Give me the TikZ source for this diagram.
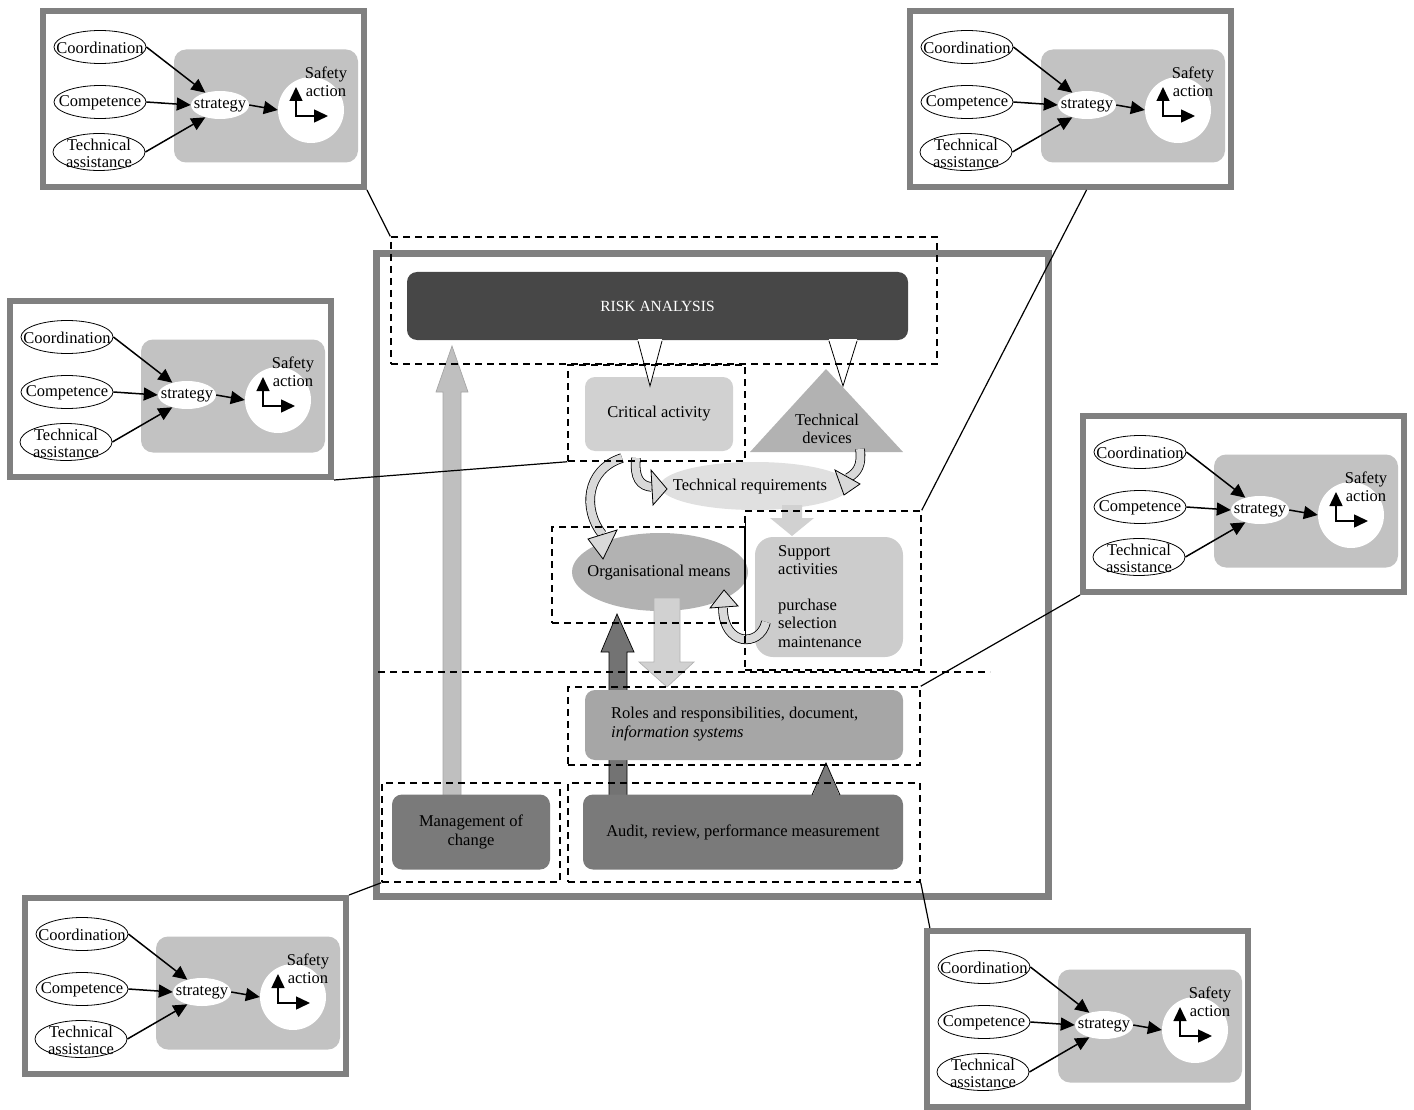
\documentclass[tikz,border=0pt]{standalone}
\usepackage{fontspec}
\setmainfont{Liberation Serif}
\usetikzlibrary{shapes.geometric,arrows.meta}

\tikzset{
  txt/.style={font=\fontsize{16.5}{18.5}\selectfont, inner sep=0pt},
  mainframe/.style={draw=black!50, line width=7pt, minimum width=672pt, minimum height=643pt, inner sep=0pt},
  panelframe/.style={draw=black!50, line width=6pt, fill=white, minimum width=321pt, minimum height=176pt, inner sep=0pt},
  panelzone/.style={fill=black!24, rounded corners=12pt, minimum width=184pt, minimum height=113pt, inner sep=0pt},
  panelell/.style={ellipse, draw, fill=white, line width=0.8pt, minimum width=92pt, minimum height=33pt, inner sep=0pt},
  stratell/.style={ellipse, fill=white, minimum width=58pt, minimum height=28pt, inner sep=0pt},
  actcircle/.style={circle, fill=white, minimum size=66pt, inner sep=0pt},
  panarrow/.style={-{Triangle[length=14pt,width=13pt]}, line width=1.5pt},
  zone/.style={draw, dash pattern=on 7pt off 5pt, line width=1.5pt, inner sep=0pt},
  link/.style={line width=1.2pt},
  box/.style={rounded corners=10pt, inner sep=0pt, txt},
  curvebody/.style={draw=black, line width=0.8pt, double=black!15, double distance=8pt},
  curvehead/.style={fill=black!15, draw=black, line width=0.8pt},
}

% one of the six small panels: name, left, top
\newcommand{\safetypanel}[3]{%
  \begin{scope}[shift={(#2,#3)}]
    \node[panelframe] (#1) at (163.5,91) {};
    \node[panelzone] (#1-zone) at (226,98) {};
    \node[stratell] (#1-strat) at (180,97) {};
    \node[txt] (#1-strattxt) at (180,98) {strategy};
    \node[actcircle] (#1-act) at (271,102) {};
    \node[txt, align=center] (#1-safe) at (286,74) {Safety\\action};
    \node[panelell] (#1-coord) at (60,39) {};
    \node[txt] (#1-coordtxt) at (60,40) {Coordination};
    \node[panelell] (#1-comp) at (60,94) {};
    \node[txt] (#1-comptxt) at (60,95) {Competence};
    \node[panelell, minimum height=37pt] (#1-tech) at (59,144) {};
    \node[txt, align=center, font=\fontsize{16.5}{17}\selectfont] (#1-techtxt) at (59,145) {Technical\\assistance};
    \draw[panarrow] (#1-coord.east) -- (#1-strat.140);
    \draw[panarrow] (#1-comp.east) -- (#1-strat.west);
    \draw[panarrow] (#1-tech.east) -- (#1-strat.220);
    \draw[panarrow] (#1-strat.east) -- (#1-act.west);
    \draw[panarrow] (256,108) -- (256,79);
    \draw[panarrow] (255.25,108) -- (288,108);
  \end{scope}}

\begin{document}
\begin{tikzpicture}[x=1pt,y=-1pt]
\useasboundingbox (0,0) rectangle (1414,1110);

% outer frame of the organisation
\node[mainframe] (frame) at (712.5,575) {};

% big feedback arrow from management of change
\filldraw[fill=black!25, draw=black!35, line width=0.7pt] (443,800) -- (443,392) -- (436,392) -- (452,346) -- (468,392) -- (461,392) -- (461,800) -- cycle;

% boxes
\node[box, fill=black!72, text=white, font=\fontsize{15.5}{17}\selectfont, minimum width=501pt, minimum height=68pt] (risk) at (657.5,306) {RISK ANALYSIS};
\node[box, fill=black!18, minimum width=148pt, minimum height=74pt] (crit) at (659,414) {Critical activity};
\fill[black!30] (826,369) -- (750,452) -- (903,452) -- cycle;
\node[txt, align=center] (devices) at (827,429) {Technical\\devices};
\fill[black!12] (755,486) ellipse (95 and 24);
\node[txt] (techreq) at (750,487) {Technical requirements};
\fill[black!30] (660,572) ellipse (88 and 39);
\node[txt] (orgmeans) at (659,573) {Organisational means};
\node[box, fill=black!20, rounded corners=18pt, minimum width=148pt, minimum height=120pt] (support) at (829,597) {};
\node[txt, align=left, anchor=north west] (suptxt) at (778,545) {Support\\activities\\[17pt]purchase\\selection\\maintenance};

% callouts under risk analysis
\fill[white] (638,339) -- (650,386) -- (662,339) -- cycle;
\draw[line width=0.8pt] (638,341) -- (650,386) -- (662,341);
\fill[white] (829,339) -- (843,386) -- (857,339) -- cycle;
\draw[line width=0.8pt] (829,341) -- (843,386) -- (857,341);

% small block arrows
\fill[black!18] (782,505) -- (802,505) -- (802,518) -- (814,518) -- (792,536) -- (770,518) -- (782,518) -- cycle;
\filldraw[fill=black!18, draw=black!30, line width=0.7pt] (654,598) -- (680,598) -- (680,662) -- (694,662) -- (667,687) -- (639,662) -- (654,662) -- cycle;
\filldraw[fill=black!55, draw=black, line width=0.7pt] (609,800) -- (609,652) -- (601,652) -- (617,614) -- (634,652) -- (627,652) -- (627,800) -- cycle;

% curved arrows
\draw[curvebody] (622,458) .. controls (585,470) and (583,510) .. (602,534);
\filldraw[curvehead] (588,539) -- (603,559) -- (617,530) -- cycle;
\draw[curvebody] (636,458) .. controls (634,478) and (640,486) .. (652,487);
\filldraw[curvehead] (651,470) -- (667,489) -- (653,505) -- cycle;
\draw[curvebody] (860,449) .. controls (862,465) and (858,472) .. (848,478);
\filldraw[curvehead] (835,470) -- (844,495) -- (860,484) -- cycle;
\draw[curvebody] (766,622) .. controls (760,648) and (723,646) .. (723,608);
\filldraw[curvehead] (710,608) -- (724,590) -- (738,606) -- cycle;

\node[box, fill=black!35, minimum width=318pt, minimum height=70pt] (roles) at (744,725) {};
\node[txt, align=left, anchor=west] (rolestxt) at (611,724) {Roles and responsibilities, document,\\\textit{information systems}};
\node[box, fill=black!52, align=center, minimum width=158pt, minimum height=75pt] (moc) at (471,832) {Management of\\change};
\node[box, fill=black!52, minimum width=320pt, minimum height=75pt] (audit) at (743,832) {Audit, review, performance measurement};
\fill[black!52] (812,797) -- (826,763) -- (840,797) -- cycle;
\draw[line width=0.8pt] (812,795) -- (826,763) -- (840,795);

% dashed zones
\node[zone, minimum width=546pt, minimum height=127pt] (riskzone) at (664,300.5) {};
\node[zone, minimum width=177pt, minimum height=96pt] (critzone) at (656.5,413) {};
\node[zone, minimum width=193pt, minimum height=96pt] (orgzone) at (648.5,575) {};
\node[zone, minimum width=176pt, minimum height=159pt] (supzone) at (833,590.5) {};
\node[zone, minimum width=352pt, minimum height=78pt] (roleszone) at (744,726) {};
\node[zone, minimum width=178pt, minimum height=99pt] (moczone) at (471,832.5) {};
\node[zone, minimum width=352pt, minimum height=99pt] (auditzone) at (744,832.5) {};
\draw[zone] (378,672) -- (990,672);
\draw[line width=1pt] (745,518) -- (745,640);

% the six panels
\safetypanel{riskpanel}{40}{8}
\safetypanel{suppanel}{907}{8}
\safetypanel{critpanel}{7}{298}
\safetypanel{rolespanel}{1080}{413}
\safetypanel{mocpanel}{22}{895}
\safetypanel{auditpanel}{924}{928}

% links to the panels
\draw[link] (riskpanel.south east) -- (riskzone.north west);
\draw[link] (suppanel.-80) -- (supzone.north east);
\draw[link] (critpanel.south east) -- (critzone.south west);
\draw[link] (rolespanel.south west) -- (roleszone.north east);
\draw[link] (mocpanel.north east) -- (moczone.south west);
\draw[link] (auditzone.south east) -- (auditpanel.150);
\end{tikzpicture}
\end{document}
